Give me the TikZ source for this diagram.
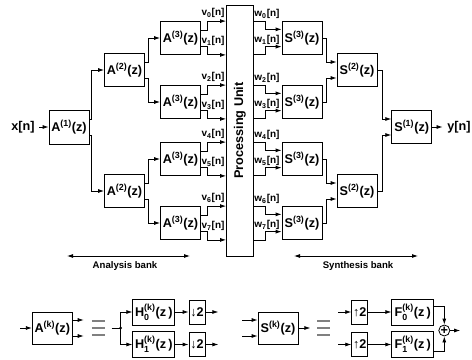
\documentclass[tikz,border=0pt]{standalone}
\usepackage{fontspec}
\usepackage{amsmath}
\usepackage{graphicx}
\setmainfont{Liberation Sans}
\usetikzlibrary{arrows.meta,calc}

% block labels: A^(3)(z), H^(k)_0(z)
\newcommand{\blk}[2]{#1$^{\text{(#2)}}$(z)}
\newcommand{\sblk}[3]{#1$^{\text{(#2)}}_{\text{#3}}$(z\,)}

\tikzset{
  box/.style={draw, minimum width=30pt, minimum height=24.75pt, inner sep=0pt},
  sbox/.style={draw, minimum width=31.5pt, minimum height=19.5pt, inner sep=0pt},
  rbox/.style={draw, minimum width=12pt, minimum height=18pt, inner sep=0pt},
  lbl/.style={font=\bfseries\fontsize{7.5}{8}\selectfont, inner sep=0pt},
  bank/.style={font=\bfseries\fontsize{7.2}{8}\selectfont, inner sep=0pt},
  eqv/.style={draw=black!50, line width=1.1pt},
}

\begin{document}
\begin{tikzpicture}[x=0.75pt, y=-0.75pt, >={Latex[length=4.5pt,width=3pt]},
    line width=0.6pt, font=\bfseries\fontsize{9.5}{10}\selectfont]
    \useasboundingbox (0,0) rectangle (472,360);
    % Analysis bank
    \node (x) at (23,127) {x[n]};
    \node[box, minimum height=25.5pt] (a1) at (69,127) {\blk{A}{1}};
    \node[box] (a2u) at (124.5,70) {\blk{A}{2}};
    \node[box] (a2d) at (124.5,191) {\blk{A}{2}};
    \draw[->] (x) -- (a1);
    \draw[->] ([yshift=6pt]a1.east) -- ++(2,0) |- (a2u);
    \draw[->] ([yshift=-6pt]a1.east) -- ++(2,0) |- (a2d);
    % Processing unit
    \node[draw, minimum width=20.25pt, minimum height=188.25pt, inner sep=0pt] (pu) at (240,130.5)
        {\rotatebox{90}{Processing Unit}};
    % Third stage, both banks
    \foreach \i/\cy in {0/38,1/102,2/159,3/223}{
        \node[box] (a3\i) at (180.5,\cy) {\blk{A}{3}};
        \node[box] (s3\i) at (302,\cy) {\blk{S}{3}};
    }
    \draw[->] ([yshift=6pt]a2u.east) -- ++(3,0) |- (a30);
    \draw[->] ([yshift=-6pt]a2u.east) -- ++(3,0) |- (a31);
    \draw[->] ([yshift=6pt]a2d.east) -- ++(3,0) |- (a32);
    \draw[->] ([yshift=-6pt]a2d.east) -- ++(3,0) |- (a33);
    \foreach \i in {0,...,3}{
        \pgfmathtruncatemacro{\ve}{2*\i}
        \pgfmathtruncatemacro{\vo}{2*\i+1}
        % outputs v[n]
        \draw[->] ([yshift=6pt]a3\i.east) -- ++(6,0) |- (a3\i.north -| pu.west);
        \draw[->] ([yshift=-6pt]a3\i.east) -- ++(6,0) |- (a3\i.south -| pu.west);
        \node[lbl] (v\ve) at ($(a3\i)+(32.5,-25)$) {v$_{\text{\ve}}$[n]};
        \node[lbl] (v\vo) at ($(a3\i)+(32.5,3)$) {v$_{\text{\vo}}$[n]};
        % inputs w[n]
        \draw[->] (s3\i.north -| pu.east) -- ++(11,0) |- ([yshift=6.5pt]s3\i.west);
        \draw[->] (s3\i.south -| pu.east) -- ++(11,0) |- ([yshift=-6.5pt]s3\i.west);
        \node[lbl] (w\ve) at ($(s3\i)+(-35,-24)$) {w$_{\text{\ve}}$[n]};
        \node[lbl] (w\vo) at ($(s3\i)+(-35,2)$) {w$_{\text{\vo}}$[n]};
    }
    % Synthesis bank
    \node[box] (s2u) at (357,70) {\blk{S}{2}};
    \node[box] (s2d) at (357,191) {\blk{S}{2}};
    \node[box] (s1) at (411.7,127) {\blk{S}{1}};
    \node (y) at (459,127) {y[n]};
    \draw[->] (s30.east) -- ++(4,0) |- ([yshift=6pt]s2u.west);
    \draw[->] (s31.east) -- ++(4,0) |- ([yshift=-6pt]s2u.west);
    \draw[->] (s32.east) -- ++(4,0) |- ([yshift=6pt]s2d.west);
    \draw[->] (s33.east) -- ++(4,0) |- ([yshift=-6pt]s2d.west);
    \draw[->] (s2u.east) -- ++(5,0) |- ([yshift=6pt]s1.west);
    \draw[->] (s2d.east) -- ++(5,0) |- ([yshift=-6pt]s1.west);
    \draw[->] (s1) -- (y);
    % Bank marks
    \coordinate (ab0) at (67,256);
    \coordinate (ab1) at (190,256);
    \coordinate (sb0) at (294,256);
    \coordinate (sb1) at (418,256);
    \draw[<->] (ab0) -- (ab1);
    \draw[<->] (sb0) -- (sb1);
    \node[bank] (abl) at (125,266) {Analysis bank};
    \node[bank] (sbl) at (358,266) {Synthesis bank};
    % Equivalence marks
    \coordinate (eq1) at (98.3,328);
    \coordinate (eq2) at (323.7,328);
    \foreach \e in {eq1,eq2}
        \foreach \dy in {-7,0,7}
            \draw[eqv] ($(\e)+(-6.5,\dy)$) -- ++(13,0);
    % Analysis block, expanded
    \node[box, minimum height=24pt] (ak) at (52.3,328) {\blk{A}{k}};
    \coordinate (akin) at (20,328);
    \draw[->] (akin) -- (ak);
    \draw[->] ([yshift=6pt]ak.east) -- ++(11,0);
    \draw[->] ([yshift=-6pt]ak.east) -- ++(11,0);
    \coordinate (hin) at (111.7,328);
    \coordinate (hj) at (120.7,328);
    \draw (hin) -- (hj);
    \fill (hj) circle (1.5);
    \node[sbox] (h0) at (153.8,312) {\sblk{H}{k}{0}};
    \node[sbox] (h1) at (153.8,344.5) {\sblk{H}{k}{1}};
    \node[rbox] (d0) at (197,312) {↓2};
    \node[rbox] (d1) at (197,344.5) {↓2};
    \draw[->] (hj) |- (h0);
    \draw[->] (hj) |- (h1);
    \draw[->] (h0) -- (d0);
    \draw[->] (h1) -- (d1);
    \draw[->] (d0.east) -- ++(13,0);
    \draw[->] (d1.east) -- ++(13,0);
    % Synthesis block, expanded
    \node[box, minimum height=24pt] (sk) at (278,328) {\blk{S}{k}};
    \draw[<-] ([yshift=6pt]sk.west) -- ++(-16,0);
    \draw[<-] ([yshift=-6pt]sk.west) -- ++(-16,0);
    \draw[->] (sk.east) -- ++(12,0);
    \node[rbox] (u0) at (359.7,312) {↑2};
    \node[rbox] (u1) at (359.7,344.5) {↑2};
    \node[sbox] (f0) at (412.8,312) {\sblk{F}{k}{0}};
    \node[sbox] (f1) at (412.8,344.5) {\sblk{F}{k}{1}};
    \node[circle, draw, inner sep=0pt, minimum size=8.25pt] (add) at (444.3,330.5) {+};
    \draw[<-] (u0.west) -- ++(-13,0);
    \draw[<-] (u1.west) -- ++(-13,0);
    \draw[->] (u0) -- (f0);
    \draw[->] (u1) -- (f1);
    \draw[->] ([yshift=4pt]f0.east) -| (add);
    \draw[->] ([yshift=-5pt]f1.east) -| (add);
    \draw[->] (add.east) -- ++(10,0);
\end{tikzpicture}
\end{document}
